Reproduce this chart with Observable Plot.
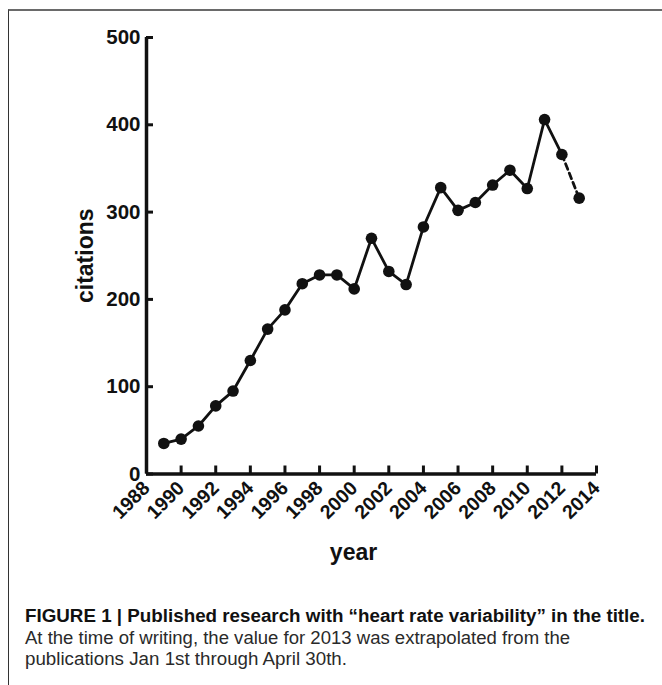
<!DOCTYPE html>
<html>
<head>
<meta charset="utf-8">
<script src="https://cdn.jsdelivr.net/npm/d3@7"></script>
<script src="https://cdn.jsdelivr.net/npm/@observablehq/plot@0.6"></script>
<style>
  html, body { margin: 0; padding: 0; background: #fff; }
  #fig { position: relative; width: 662px; height: 685px; overflow: hidden; background: #fff; }
  #border { position: absolute; left: 8px; top: 9px; right: -2px; bottom: -2px;
            border-top: 2px solid #6a6a6a; border-left: 1px solid #333; }
  #chart { position: absolute; left: 0; top: 0; }
  #caption { position: absolute; left: 0; top: 0; }
</style>
</head>
<body>
<div id="fig">
  <div id="border"></div>
  <div id="chart"></div>
  <svg id="caption" width="662" height="685" font-family="'Liberation Sans', Arial, sans-serif">
    <text x="25" y="622" font-size="18.8" font-weight="bold" fill="#111" textLength="620" lengthAdjust="spacingAndGlyphs">FIGURE 1 | Published research with “heart rate variability” in the title.</text>
    <text x="25" y="644" font-size="17.5" fill="#2a2a2a" textLength="545" lengthAdjust="spacingAndGlyphs">At the time of writing, the value for 2013 was extrapolated from the</text>
    <text x="25" y="665" font-size="17.5" fill="#2a2a2a" textLength="322" lengthAdjust="spacingAndGlyphs">publications Jan 1st through April 30th.</text>
  </svg>
</div>
<script>
// Data
const years = [1989, 1990, 1991, 1992, 1993, 1994, 1995, 1996, 1997, 1998, 1999, 2000,
               2001, 2002, 2003, 2004, 2005, 2006, 2007, 2008, 2009, 2010, 2011, 2012, 2013];
const citations = [35, 40, 55, 78, 95, 130, 166, 188, 218, 228, 228, 212,
                   270, 232, 217, 283, 328, 302, 311, 331, 348, 327, 406, 366, 316];
const lastObservedYear = 2012;   // 2013 is extrapolated (dashed)
const xTicks = [1988, 1990, 1992, 1994, 1996, 1998, 2000, 2002, 2004, 2006, 2008, 2010, 2012, 2014];
const yTicks = [0, 100, 200, 300, 400, 500];
const xLabel = "year";
const yLabel = "citations";

const rows = years.map((year, i) => ({year, value: citations[i]}));
const observed = rows.filter(d => d.year <= lastObservedYear);
const extrapolated = rows.filter(d => d.year >= lastObservedYear);

const chart = Plot.plot({
  width: 662,
  height: 570,
  marginLeft: 146,
  marginRight: 66,
  marginTop: 37,
  marginBottom: 96.5,
  style: {fontFamily: "'Liberation Sans', Arial, sans-serif", background: "transparent", overflow: "visible", color: "#111"},
  x: {domain: [xTicks[0], xTicks[xTicks.length - 1]]},
  y: {domain: [yTicks[0], yTicks[yTicks.length - 1]]},
  marks: [
    Plot.axisY(yTicks, {tickSize: -7, tickPadding: 13, strokeWidth: 3, fontSize: 20.5, fontWeight: "bold",
                        label: null, tickFormat: d => String(d)}),
    Plot.axisX(xTicks, {tickSize: -8, tickPadding: 19, tickRotate: -45, strokeWidth: 3, fontSize: 19.5,
                        fontWeight: "bold", label: null, tickFormat: d => String(d)}),
    Plot.ruleX([xTicks[0]], {strokeWidth: 3.5, stroke: "#111"}),
    Plot.ruleY([yTicks[0]], {strokeWidth: 3.5, stroke: "#111"}),
    Plot.line(observed, {x: "year", y: "value", stroke: "#111", strokeWidth: 2.8}),
    Plot.line(extrapolated, {x: "year", y: "value", stroke: "#111", strokeWidth: 2.8, strokeDasharray: "6,4"}),
    Plot.dot(rows, {x: "year", y: "value", r: 5.8, fill: "#111"}),
    Plot.text([yLabel], {text: d => d, frameAnchor: "left", textAnchor: "middle", lineAnchor: "middle",
                         dx: -61, rotate: -90, fontSize: 23, fontWeight: "bold", fill: "#111"}),
    Plot.text([xLabel], {text: d => d, frameAnchor: "bottom", textAnchor: "middle", lineAnchor: "middle",
                         dx: -18, dy: 79, fontSize: 23, fontWeight: "bold", fill: "#111"})
  ]
});
document.getElementById("chart").appendChild(chart);
</script>
</body>
</html>
